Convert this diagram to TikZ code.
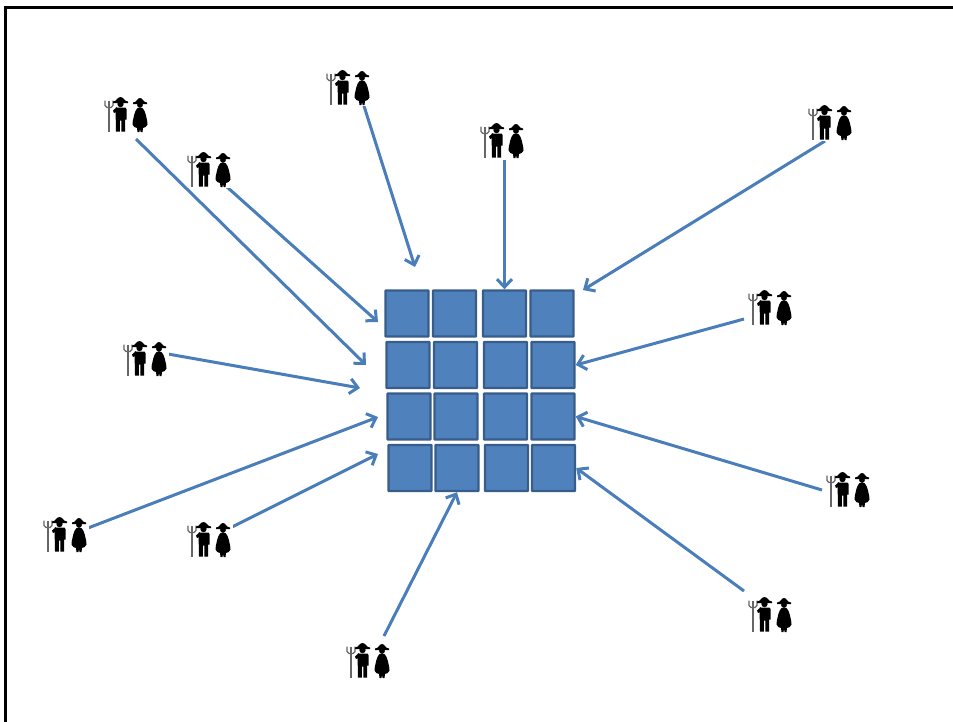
\documentclass[tikz,border=0pt]{standalone}
\usepackage{tikz}
\usetikzlibrary{arrows.meta}
\definecolor{cellfill}{HTML}{4F81BD}
\definecolor{celldraw}{HTML}{385D8A}
\definecolor{arrowblue}{HTML}{4A7EBB}
\tikzstyle{cell}=[rectangle,fill=cellfill,draw=celldraw,line width=2.4pt,rounded corners=0.5pt,minimum width=43pt,minimum height=46pt,inner sep=0pt]
\tikzstyle{supply}=[-{Straight Barb[length=8pt,width=15pt,line width=3pt]},draw=arrowblue,line width=3pt]
\tikzstyle{farmbox}=[rectangle,fill=white,minimum width=45pt,minimum height=36pt,inner sep=0pt]
\tikzset{farmers/.pic={
    % pitchfork
    \draw [black!60,line width=1.3pt] (-18,-8) -- (-18,17);
    \draw [black!60,line width=1.1pt] (-22,-14) -- (-22,-9) -- (-20,-7) -- (-16,-7) -- (-14,-9) -- (-14,-14);
    \draw [black!60,line width=1.1pt] (-18,-14) -- (-18,-7);
    % man
    \fill (-14,-4) -- (-10,-7.5) -- (-9,-3) -- (-13,-1.5) -- cycle;
    \fill (-14,-13) .. controls (-10,-13) and (-10,-17.5) .. (-6.5,-17.5) .. controls (-3,-17.5) and (-3,-13) .. (1,-13) -- (1,-11.5) -- (-14,-11.5) -- cycle;
    \fill (-6.5,-10.5) circle (3.2pt);
    \fill (-11.5,-7) -- (-1.5,-7) -- (-0.5,-5.5) -- (-0.5,5) -- (-2,5) -- (-2,17) -- (-5.7,17) -- (-5.7,6) -- (-7.2,6) -- (-7.2,17) -- (-11,17) -- cycle;
    % woman
    \fill (6,-12) .. controls (10,-12) and (10,-16.5) .. (13,-16.5) .. controls (16,-16.5) and (16,-12) .. (20,-12) -- (20,-10.5) -- (6,-10.5) -- cycle;
    \fill (13,-9.5) circle (2.9pt);
    \fill (10.5,-6.5) -- (15.5,-6.5) .. controls (18,-5) and (20.5,6) .. (20.5,10) .. controls (19.5,12.5) and (18,13) .. (16,13.5) -- (15.5,17.5) -- (13.6,17.5) -- (13,14.5) -- (12.4,17.5) -- (10.5,17.5) -- (10,13.5) .. controls (8,13) and (6.5,12.5) .. (5.5,10) .. controls (5.5,6) and (8,-5) .. (10.5,-6.5) -- cycle;
}}

\begin{document}
\begin{tikzpicture}[x=1pt,y=-1pt]
    \clip (0,0) rectangle (953,721);
    \draw [line width=3pt,line cap=rect] (5.5,721) -- (5.5,7.5) -- (953,7.5);

    \node (c11) at (407,313.5) [cell] {};
    \node (c12) at (454.5,313.5) [cell] {};
    \node (c13) at (504.5,313.5) [cell] {};
    \node (c14) at (552,313.5) [cell] {};

    \node (c21) at (408,365) [cell] {};
    \node (c22) at (455.5,365) [cell] {};
    \node (c23) at (505.5,365) [cell] {};
    \node (c24) at (553,365) [cell] {};

    \node (c31) at (409,416.5) [cell] {};
    \node (c32) at (456,416.5) [cell] {};
    \node (c33) at (505.5,416.5) [cell] {};
    \node (c34) at (553,416.5) [cell] {};

    \node (c41) at (410,468) [cell] {};
    \node (c42) at (457,468) [cell] {};
    \node (c43) at (506.5,468) [cell] {};
    \node (c44) at (553.5,468) [cell] {};

    \coordinate (s1) at (136,139);
    \coordinate (s2) at (227,187);
    \coordinate (s3) at (364,106);
    \coordinate (s4) at (504.5,160);
    \coordinate (s5) at (825,141);
    \coordinate (s6) at (744,319);
    \coordinate (s7) at (168,354);
    \coordinate (s8) at (822,490);
    \coordinate (s9) at (88,528);
    \coordinate (s10) at (232,527);
    \coordinate (s11) at (744,591);
    \coordinate (s12) at (384,636);

    \coordinate (e1) at (366,365);
    \coordinate (e2) at (378,322);
    \coordinate (e3) at (415,267);
    \coordinate (e5) at (583,290);
    \coordinate (e7) at (360,388);
    \coordinate (e9) at (378,417);
    \coordinate (e10) at (378,454);

    \draw [supply] (s1) -- (e1);
    \draw [supply] (s2) -- (e2);
    \draw [supply] (s3) -- (e3);
    \draw [supply] (s4) -- (c13.north);
    \draw [supply] (s5) -- (e5);
    \draw [supply] (s6) -- (c24.east);
    \draw [supply] (s7) -- (e7);
    \draw [supply] (s8) -- (c34.east);
    \draw [supply] (s9) -- (e9);
    \draw [supply] (s10) -- (e10);
    \draw [supply] (s11) -- (c44.east);
    \draw [supply] (s12) -- (c42.south);

    \node (f1) at (127,114.5) [farmbox] {};
    \node (f2) at (210,169.5) [farmbox] {};
    \node (f3) at (349,87.5) [farmbox] {};
    \node (f4) at (503,140.5) [farmbox] {};
    \node (f5) at (831,122.5) [farmbox] {};
    \node (f6) at (771,307.5) [farmbox] {};
    \node (f7) at (146,358.5) [farmbox] {};
    \node (f8) at (849,489.5) [farmbox] {};
    \node (f9) at (66,534.5) [farmbox] {};
    \node (f10) at (210,539.5) [farmbox] {};
    \node (f11) at (771,614.5) [farmbox] {};
    \node (f12) at (369,660.5) [farmbox] {};

    \foreach \f in {f1,f2,f3,f4,f5,f6,f7,f8,f9,f10,f11,f12}
        \pic at (\f) {farmers};
\end{tikzpicture}
\end{document}
